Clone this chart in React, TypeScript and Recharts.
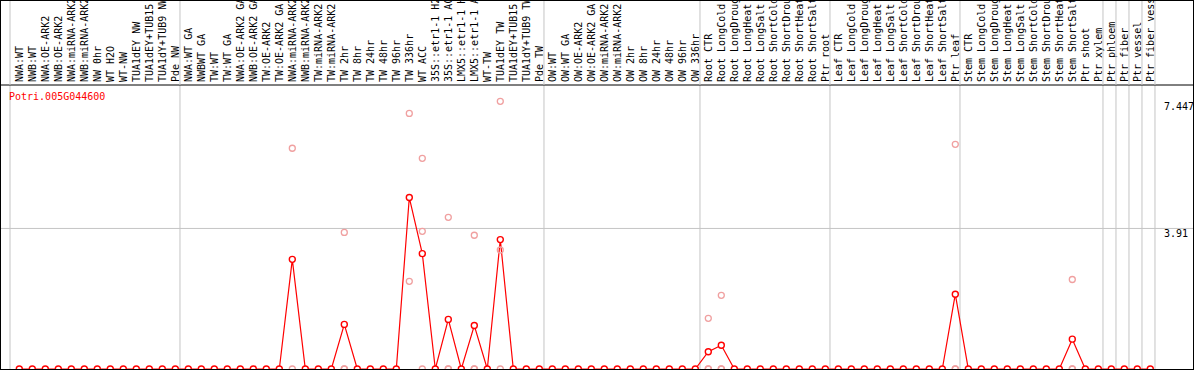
import React from "react"
import {
  ComposedChart,
  Line,
  Scatter,
  XAxis,
  YAxis,
  ReferenceLine,
} from "recharts"

const categories = [
  "NWA:WT", "NWB:WT", "NWA:OE-ARK2", "NWB:OE-ARK2", "NWA:miRNA-ARK2", "NWB:miRNA-ARK2",
  "NW 0hr", "WT H2O", "WT-NW", "TUA1dEY NW", "TUA1dEY+TUB15 NW", "TUA1dY+TUB9 NW", "Pde NW",
  "NWA:WT GA", "NWBWT GA", "TW:WT", "TW:WT GA", "NWA:OE-ARK2 GA", "NWB:OE-ARK2 GA",
  "TW:OE-ARK2", "TW:OE-ARK2 GA", "NWA:miRNA-ARK2", "NWB:miRNA-ARK2", "TW:miRNA-ARK2",
  "TW:miRNA-ARK2", "TW 2hr", "TW 8hr", "TW 24hr", "TW 48hr", "TW 96hr", "TW 336hr",
  "WT ACC", "35S::etr1-1 H2O", "35S::etr1-1 ACC", "LMX5::etr1-1 H2O", "LMX5::etr1-1 ACC",
  "WT-TW", "TUA1dEY TW", "TUA1dEY+TUB15 TW", "TUA1dY+TUB9 TW", "Pde TW",
  "OW:WT", "OW:WT GA", "OW:OE-ARK2", "OW:OE-ARK2 GA", "OW:miRNA-ARK2", "OW:miRNA-ARK2",
  "OW 2hr", "OW 8hr", "OW 24hr", "OW 48hr", "OW 96hr", "OW 336hr",
  "Root CTR", "Root LongCold", "Root LongDrought", "Root LongHeat", "Root LongSalt",
  "Root ShortCold", "Root ShortDrought", "Root ShortHeat", "Root ShortSalt", "Ptr root",
  "Leaf CTR", "Leaf LongCold", "Leaf LongDrought", "Leaf LongHeat", "Leaf LongSalt",
  "Leaf ShortCold", "Leaf ShortDrought", "Leaf ShortHeat", "Leaf ShortSalt", "Ptr leaf",
  "Stem CTR", "Stem LongCold", "Stem LongDrought", "Stem LongHeat", "Stem LongSalt",
  "Stem ShortCold", "Stem ShortDrought", "Stem ShortHeat", "Stem ShortSalt",
  "Ptr shoot", "Ptr xylem", "Ptr phloem", "Ptr fiber", "Ptr vessel", "Ptr fiber vessel",
]

// mean expression per sample
const means = [
  0, 0, 0, 0, 0, 0, 0, 0, 0, 0, 0, 0, 0,
  0, 0, 0, 0, 0, 0, 0, 0, 3.05, 0, 0, 0, 1.24, 0, 0, 0, 0, 4.77,
  3.21, 0, 1.38, 0, 1.21, 0, 3.6, 0, 0, 0,
  0, 0, 0, 0, 0, 0, 0, 0, 0, 0, 0, 0,
  0.48, 0.66, 0, 0, 0, 0, 0, 0, 0, 0,
  0, 0, 0, 0, 0, 0, 0, 0, 0, 2.08,
  0, 0, 0, 0, 0, 0, 0, 0, 0.83,
  0, 0, 0, 0, 0, 0,
]

// single replicates (sample index, value)
const replicateIdx = [21, 21, 25, 25, 25, 30, 30, 31, 31, 31, 33, 33, 33, 35, 35, 35, 37, 37, 37, 53, 53, 53, 54, 54, 54, 72, 72, 72, 81, 81, 81]
const replicateVal = [6.14, 0, 3.8, 0, 0, 7.11, 2.44, 5.86, 3.83, 0, 4.22, 0, 0, 3.72, 0, 0, 7.447, 3.31, 0, 1.41, 0, 0, 2.05, 0, 0, 6.25, 0, 0, 2.49, 0, 0]

// last sample of each group
const groupEnds = [12, 40, 52, 62, 72, 83, 84, 85, 86, 87]
const yTicks = [0, 3.91, 7.447]

const title = "Potri.005G044600"

const font = '"DejaVu Sans Mono", monospace'
const grey = "#c4c4c4"

const separators = [-0.715, ...groupEnds.map((g) => g + 0.36)]
const meanData = means.map((v, i) => ({ i, v }))
const repData = replicateIdx.map((i, k) => ({ i, v: replicateVal[k] }))

const XTick = (props: any) => {
  const { x, payload } = props
  const val = payload.value
  if (!Number.isInteger(val)) {
    return <line x1={x} x2={x} y1={0} y2={85} stroke={grey} strokeWidth={1} />
  }
  // baseline sits right of the tick so the glyphs are centred on it
  return (
    <text
      transform={`translate(${x + 3.6},82) rotate(-90)`}
      x={0}
      y={0}
      textAnchor="start"
      fontFamily={font}
      fontSize={10}
      fill="#000"
    >
      {categories[val]}
    </text>
  )
}

const YTick = (props: any) => {
  const { y, payload } = props
  const v = payload.value
  return (
    <text
      x={1164}
      y={v === 0 ? y - 3 : y + 9}
      textAnchor="start"
      fontFamily={font}
      fontSize={10}
      fill="#000"
    >
      {v === 0 ? "0" : String(v)}
    </text>
  )
}

const RepDot = (p: any) => (
  <circle cx={p.cx} cy={p.cy} r={3} fill="none" stroke="#f0a0a0" strokeWidth={1.3} />
)

export default function App() {
  const xMin = -18.3 / 13
  const xMax = xMin + 1192 / 13
  return (
    <div style={{ position: "absolute", left: 0, top: 0, width: 1194, height: 370, background: "#fff" }}>
      <ComposedChart
        width={1194}
        height={370}
        margin={{ top: 0, right: 1, left: 1, bottom: 1 }}
      >
        <XAxis
          dataKey="i"
          type="number"
          orientation="top"
          height={85}
          domain={[xMin, xMax]}
          ticks={[...categories.map((_, i) => i), ...separators]}
          interval={0}
          tick={<XTick />}
          tickLine={false}
          axisLine={{ stroke: "#000", strokeWidth: 1 }}
          allowDataOverflow
        />
        <YAxis
          type="number"
          orientation="right"
          mirror
          width={30}
          domain={[0, 7.9]}
          ticks={yTicks}
          tick={<YTick />}
          tickLine={false}
          axisLine={false}
          allowDataOverflow
        />
        {separators.map((s) => (
          <ReferenceLine key={s} x={s} stroke={grey} strokeWidth={1} />
        ))}
        <ReferenceLine y={3.91} stroke={grey} strokeWidth={1} />
        <Scatter data={repData} dataKey="v" shape={<RepDot />} isAnimationActive={false} />
        <Line
          data={meanData}
          dataKey="v"
          type="linear"
          stroke="#ff0000"
          strokeWidth={1.2}
          dot={{ r: 3, stroke: "#ff0000", strokeWidth: 1.4, fill: "#fff" }}
          isAnimationActive={false}
        />
      </ComposedChart>
      <div
        style={{
          position: "absolute",
          left: 0,
          top: 0,
          width: 1194,
          height: 370,
          boxSizing: "border-box",
          border: "1px solid #000",
          pointerEvents: "none",
        }}
      />
      <div
        style={{
          position: "absolute",
          left: 9,
          top: 91.5,
          fontFamily: font,
          fontSize: 10,
          lineHeight: "10px",
          color: "#ff0000",
          whiteSpace: "nowrap",
        }}
      >
        {title}
      </div>
    </div>
  )
}
